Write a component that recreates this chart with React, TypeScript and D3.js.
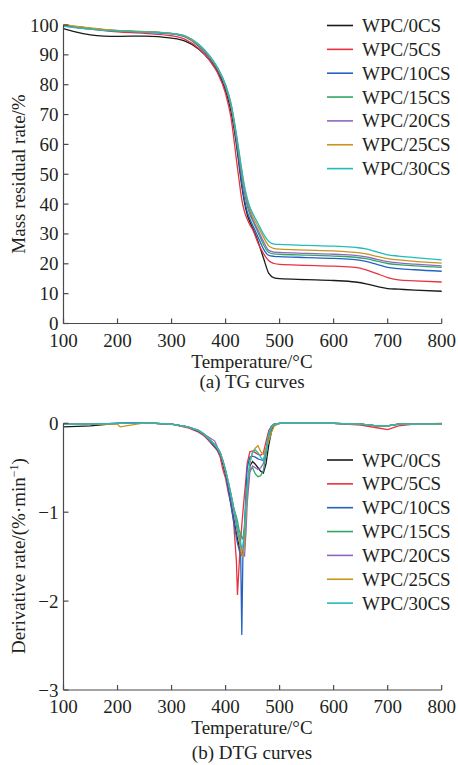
import React from "react";
import * as d3 from "d3";

const SERIES = ["WPC/0CS", "WPC/5CS", "WPC/10CS", "WPC/15CS", "WPC/20CS", "WPC/25CS", "WPC/30CS"];
const COLORS = ["#1a1a1a", "#e8343f", "#2462c2", "#2fa566", "#8c68c0", "#c8951c", "#22bcbc"];

const X_TICKS = [100, 200, 300, 400, 500, 600, 700, 800];
const TG_Y_TICKS = [0, 10, 20, 30, 40, 50, 60, 70, 80, 90, 100];
const DTG_Y_TICKS = [-3, -2, -1, 0];

const TG_T = [100, 120, 150, 175, 200, 250, 300, 325, 350, 370, 385, 400, 410, 420, 425, 430, 435, 440, 445, 450, 460, 470, 480, 490, 500, 550, 600, 640, 660, 680, 700, 720, 750, 800];
const TG_0 = [98.8, 97.8, 96.7, 96.3, 96.2, 96.3, 95.6, 94.6, 92.0, 88.3, 84.5, 78, 71, 60, 53, 46, 40.5, 36.5, 34, 32, 27.5, 22, 16.8, 15.3, 15.0, 14.7, 14.4, 13.9, 13.3, 12.4, 11.7, 11.5, 11.2, 10.8];
const TG_5 = [99.8, 99.3, 98.6, 98.1, 97.7, 97.2, 96.4, 95.2, 92.2, 88.2, 84, 77, 69, 55, 48, 41.5, 37.5, 35, 33, 31.5, 27, 23.5, 21, 20.1, 19.8, 19.5, 19.2, 18.8, 18.0, 16.7, 15.4, 14.6, 14.3, 13.9];
const TG_10 = [100, 99.4, 98.8, 98.3, 98, 97.6, 97, 96, 93, 89, 85, 79, 72.5, 61, 54, 47, 41.5, 37.5, 35, 33, 29, 25, 22.8, 22.5, 22.4, 22.1, 21.8, 21.4, 20.8, 19.8, 18.8, 18.4, 18.0, 17.5];
const TG_15 = [100, 99.5, 98.9, 98.4, 98.1, 97.7, 97.1, 96.2, 93.3, 89.5, 85.5, 79.5, 73, 62.5, 56, 49.5, 44, 39.5, 36.5, 34.5, 30.5, 26.5, 23.8, 23.3, 23.2, 22.9, 22.6, 22.2, 21.7, 20.9, 20.1, 19.7, 19.3, 18.8];
const TG_20 = [100, 99.5, 98.9, 98.4, 98.1, 97.7, 97.1, 96.2, 93.3, 89.5, 85.5, 79.5, 73, 62.5, 56.5, 50, 44.5, 40.5, 37.5, 35, 31.3, 27.5, 24.5, 23.9, 23.8, 23.5, 23.2, 22.8, 22.3, 21.5, 20.7, 20.3, 19.9, 19.3];
const TG_25 = [100.2, 99.6, 99, 98.5, 98.2, 97.8, 97.2, 96.3, 93.4, 89.6, 85.6, 79.8, 73.5, 63, 57, 51, 45.5, 41.5, 38.5, 36, 32.5, 29, 26, 25.1, 24.9, 24.6, 24.3, 23.8, 23.3, 22.5, 21.7, 21.3, 20.8, 20.2];
const TG_30 = [99.6, 99.1, 98.6, 98.2, 98, 97.7, 97.2, 96.4, 93.6, 89.8, 85.8, 80, 73.8, 63.5, 57.5, 51.5, 46, 42, 39, 37, 33.5, 30, 27.5, 26.6, 26.5, 26.2, 25.9, 25.5, 25.0, 24.0, 23.0, 22.6, 22.1, 21.3];

const DTG_T = [100, 150, 200, 205, 250, 300, 330, 350, 360, 370, 380, 385, 390, 395, 400, 405, 410, 415, 420, 422, 425, 428, 430, 432, 435, 438, 440, 445, 450, 455, 460, 465, 470, 475, 480, 485, 490, 500, 550, 600, 650, 680, 700, 720, 750, 800];
const DTG_0 = [-0.04, -0.03, 0, 0, 0.005, -0.01, -0.04, -0.09, -0.13, -0.2,
  -0.27, -0.3, -0.36, -0.46, -0.58, -0.72, -0.9, -1.07, -1.24, -1.3,
  -1.38, -1.45, -1.48, -1.47, -1.32, -1.0, -0.78, -0.48, -0.43, -0.46,
  -0.5, -0.54, -0.56, -0.45, -0.24, -0.09, -0.02, 0, 0, 0,
  -0.01, -0.03, -0.03, -0.01, -0.01, -0.01];
const DTG_5 = [-0.01, -0.01, 0, 0, 0.005, -0.01, -0.05, -0.1, -0.14, -0.2,
  -0.27, -0.31, -0.38, -0.52, -0.62, -0.78, -0.9, -1.12, -1.55, -1.93,
  -1.6, -1.3, -1.15, -1.0, -0.8, -0.6, -0.45, -0.32, -0.31, -0.33,
  -0.35, -0.36, -0.33, -0.2, -0.08, -0.03, -0.01, 0, 0, 0,
  -0.02, -0.05, -0.07, -0.03, -0.01, 0];
const DTG_10 = [-0.01, -0.01, 0, 0, 0.005, -0.01, -0.04, -0.09, -0.13, -0.19,
  -0.26, -0.3, -0.35, -0.44, -0.57, -0.74, -0.93, -1.1, -1.28, -1.35,
  -1.42, -1.5, -2.38, -1.5, -1.15, -0.75, -0.5, -0.38, -0.37, -0.38,
  -0.4, -0.41, -0.42, -0.3, -0.12, -0.04, -0.01, 0, 0, 0,
  -0.01, -0.03, -0.03, -0.01, -0.01, -0.01];
const DTG_15 = [-0.01, -0.01, 0, 0, 0.005, -0.01, -0.04, -0.08, -0.12, -0.18,
  -0.24, -0.28, -0.33, -0.42, -0.53, -0.66, -0.8, -0.95, -1.05, -1.1,
  -1.2, -1.25, -1.28, -1.3, -1.17, -0.88, -0.7, -0.52, -0.5, -0.57,
  -0.6, -0.59, -0.53, -0.35, -0.15, -0.05, -0.01, 0, 0, 0,
  -0.01, -0.03, -0.03, -0.01, -0.01, -0.01];
const DTG_20 = [-0.01, -0.01, 0, 0, 0.005, -0.01, -0.04, -0.08, -0.12, -0.16,
  -0.2, -0.27, -0.33, -0.42, -0.54, -0.67, -0.82, -0.98, -1.15, -1.22,
  -1.3, -1.38, -1.42, -1.45, -1.5, -1.2, -0.9, -0.55, -0.48, -0.5,
  -0.52, -0.5, -0.45, -0.3, -0.12, -0.03, -0.01, 0, 0, 0,
  -0.01, -0.03, -0.03, -0.01, -0.01, -0.01];
const DTG_25 = [-0.01, -0.01, -0.01, -0.04, 0.005, -0.01, -0.04, -0.08, -0.12, -0.18,
  -0.24, -0.28, -0.33, -0.42, -0.53, -0.66, -0.8, -0.95, -1.1, -1.18,
  -1.3, -1.42, -1.48, -1.5, -1.35, -1.0, -0.75, -0.45, -0.32, -0.28,
  -0.25, -0.32, -0.35, -0.28, -0.2, -0.1, -0.03, 0, 0, 0,
  -0.01, -0.03, -0.03, -0.01, -0.01, -0.01];
const DTG_30 = [-0.01, -0.01, 0, 0, 0.005, -0.01, -0.04, -0.08, -0.12, -0.18,
  -0.24, -0.28, -0.33, -0.42, -0.53, -0.66, -0.8, -0.95, -1.1, -1.16,
  -1.25, -1.35, -1.4, -1.38, -1.2, -0.9, -0.7, -0.42, -0.33, -0.3,
  -0.33, -0.38, -0.42, -0.3, -0.12, -0.04, -0.01, 0, 0, 0,
  -0.01, -0.03, -0.03, -0.01, -0.01, -0.01];

const TG_DATA = [TG_0, TG_5, TG_10, TG_15, TG_20, TG_25, TG_30];
const DTG_DATA = [DTG_0, DTG_5, DTG_10, DTG_15, DTG_20, DTG_25, DTG_30];

const FONT = "'Liberation Serif', 'Times New Roman', serif";
const TEXT = "#231f20";
const AXIS = "#4a4a4a";

const x = d3.scaleLinear().domain([100, 800]).range([63.5, 441.7]);
const yTop = d3.scaleLinear().domain([0, 100]).range([323.5, 25]);
const yBot = d3.scaleLinear().domain([-3, 0]).range([690, 423.3]);

const fmt = (v: number) => (v < 0 ? "\u2212" + Math.abs(v) : String(v));

function Axes({ y, yTicks, xBaseline }: { y: d3.ScaleLinear<number, number>; yTicks: number[]; xBaseline: number }) {
  const [y0, y1] = y.range();
  return (
    <g>
      <line x1={x(100)} x2={x(100)} y1={y0} y2={y1} stroke={AXIS} strokeWidth={1.2} />
      <line x1={x(100)} x2={x(800)} y1={y0} y2={y0} stroke={AXIS} strokeWidth={1.2} />
      {X_TICKS.map((t) => (
        <g key={"x" + t}>
          <line x1={x(t)} x2={x(t)} y1={y0} y2={y0 - 5} stroke={AXIS} strokeWidth={1.2} />
          <text x={x(t)} y={xBaseline} textAnchor="middle" fontSize={19} fill={TEXT} fontFamily={FONT}>{t}</text>
        </g>
      ))}
      {yTicks.map((t) => (
        <g key={"y" + t}>
          <line x1={x(100)} x2={x(100) + 5} y1={y(t)} y2={y(t)} stroke={AXIS} strokeWidth={1.2} />
          <text x={58.5} y={y(t) + 6.5} textAnchor="end" fontSize={19} fill={TEXT} fontFamily={FONT}>{fmt(t)}</text>
        </g>
      ))}
    </g>
  );
}

function Legend({ top }: { top: number }) {
  return (
    <g>
      {SERIES.map((s, i) => {
        const cy = top + i * 23.85;
        return (
          <g key={s}>
            <line x1={327} x2={353} y1={cy} y2={cy} stroke={COLORS[i]} strokeWidth={1.6} />
            <text x={362} y={cy + 6.5} fontSize={19} fill={TEXT} fontFamily={FONT}>{s}</text>
          </g>
        );
      })}
    </g>
  );
}

export default function App() {
  const tgLine = (vals: number[]) =>
    d3.line<number>().x((_, i) => x(TG_T[i])).y((v) => yTop(v)).curve(d3.curveMonotoneX)(vals) || "";
  const dtgLine = (vals: number[]) =>
    d3.line<number>().x((_, i) => x(DTG_T[i])).y((v) => yBot(v)).curve(d3.curveLinear)(vals) || "";

  return (
    <svg width={458} height={765} style={{ position: "absolute", left: 0, top: 0, background: "#fff" }}>
      <rect width={458} height={765} fill="#fff" />
      {/* TG */}
      {TG_DATA.map((vals, i) => (
        <path key={"tg" + i} d={tgLine(vals)} fill="none" stroke={COLORS[i]} strokeWidth={1.3} />
      ))}
      <Axes y={yTop} yTicks={TG_Y_TICKS} xBaseline={347} />
      <Legend top={25.5} />
      <text transform="translate(25,174) rotate(-90)" textAnchor="middle" fontSize={19} fill={TEXT} fontFamily={FONT}>Mass residual rate/%</text>
      <text x={252} y={368} textAnchor="middle" fontSize={19} fill={TEXT} fontFamily={FONT}>Temperature/°C</text>
      <text x={252} y={388} textAnchor="middle" fontSize={19} fill={TEXT} fontFamily={FONT}>(a) TG curves</text>

      {/* DTG */}
      {DTG_DATA.map((vals, i) => (
        <path key={"dtg" + i} d={dtgLine(vals)} fill="none" stroke={COLORS[i]} strokeWidth={1.3} />
      ))}
      <Axes y={yBot} yTicks={DTG_Y_TICKS} xBaseline={713} />
      <Legend top={460} />
      <text transform="translate(25,556) rotate(-90)" textAnchor="middle" fontSize={19} fill={TEXT} fontFamily={FONT}>
        Derivative rate/(%·min<tspan fontSize={12} dy={-7}>−1</tspan><tspan dy={7}>)</tspan>
      </text>
      <text x={252} y={734} textAnchor="middle" fontSize={19} fill={TEXT} fontFamily={FONT}>Temperature/°C</text>
      <text x={252} y={759} textAnchor="middle" fontSize={19} fill={TEXT} fontFamily={FONT}>(b) DTG curves</text>
    </svg>
  );
}
